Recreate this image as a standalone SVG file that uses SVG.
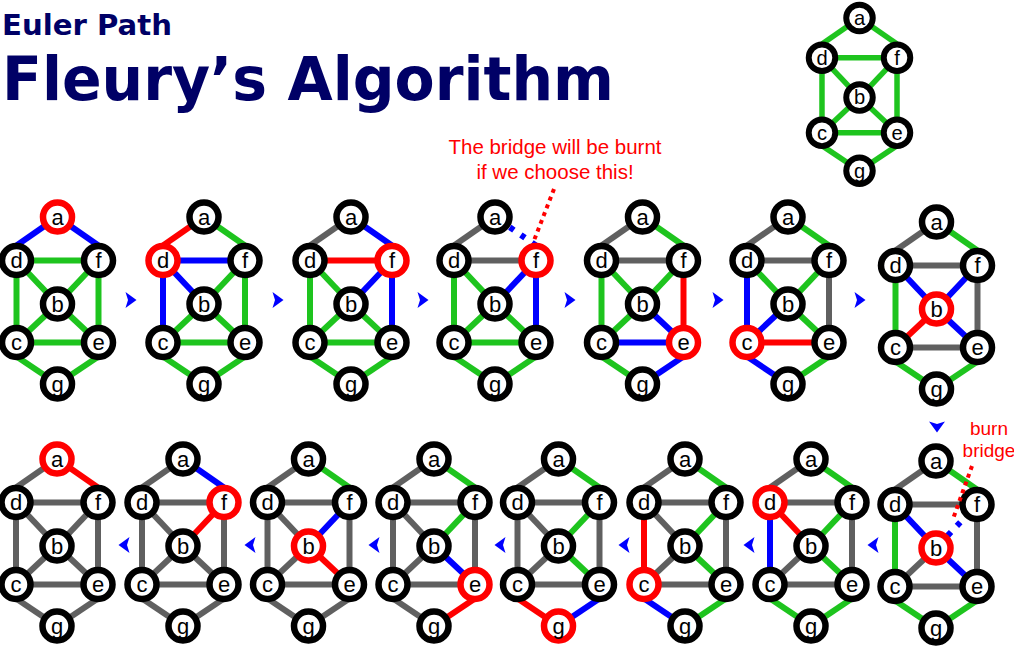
<svg xmlns="http://www.w3.org/2000/svg" width="1014" height="653" viewBox="0 0 1014 653">
<style>
  .links use { fill: none; stroke-width: 6; }
  .G { stroke: #1ec41e; }
  .K { stroke: #606060; }
  .U { stroke: #0000ff; }
  .R { stroke: #ff0000; }
  .dash { stroke-dasharray: 5 8.5; }
  .n circle { fill: #ffffff; stroke: #000000; stroke-width: 6.5; }
  .n.hot circle { stroke: #ff0000; }
  .n text { font-family: "Liberation Sans", Arial, sans-serif; font-size: 22px; text-anchor: middle; fill: #000000; }
  .title { font-family: "DejaVu Sans", Verdana, sans-serif; font-weight: bold; fill: #000066; }
  .note { font-family: "Liberation Sans", Arial, sans-serif; fill: #ff0000; text-anchor: middle; }
  .dots { fill: none; stroke: #ff0000; stroke-width: 4; stroke-dasharray: 4 4.3; }
  .arw { fill: #0000ff; }
</style>
<defs>
  <!-- edge geometry, relative to node a of each copy of the graph -->
  <path id="e-ad" d="M0,0 L-41,28.5"/>
  <path id="e-af" d="M0,0 L41,28.5"/>
  <path id="e-df" d="M-41,43.5 H41"/>
  <path id="e-db" d="M-41,43.5 L0,87"/>
  <path id="e-fb" d="M41,43.5 L0,87"/>
  <path id="e-dc" d="M-41,43.5 V125.5"/>
  <path id="e-fe" d="M41,43.5 V125.5"/>
  <path id="e-bc" d="M0,87 L-41,125.5"/>
  <path id="e-be" d="M0,87 L41,125.5"/>
  <path id="e-ce" d="M-41,125.5 H41"/>
  <path id="e-cg" d="M-41,139.5 L0,167"/>
  <path id="e-eg" d="M41,139.5 L0,167"/>
  <path id="arrow" d="M-5.5,-8 L5.5,0 L-5.5,8 L-3,0 Z"/>
</defs>

<g id="title">
  <text class="title" x="2" y="35" font-size="29" textLength="170" lengthAdjust="spacingAndGlyphs">Euler Path</text>
  <text class="title" x="2" y="100" font-size="61" textLength="612" lengthAdjust="spacingAndGlyphs">Fleury’s Algorithm</text>
</g>

<!-- the whole graph, all edges unused -->
<g id="graph" transform="translate(859.5,18) scale(0.915)">
  <g class="links">
    <use href="#e-ad" class="G"/><use href="#e-af" class="G"/><use href="#e-df" class="G"/>
    <use href="#e-db" class="G"/><use href="#e-fb" class="G"/><use href="#e-dc" class="G"/>
    <use href="#e-fe" class="G"/><use href="#e-bc" class="G"/><use href="#e-be" class="G"/>
    <use href="#e-ce" class="G"/><use href="#e-cg" class="G"/><use href="#e-eg" class="G"/>
  </g>
  <g id="graph-a" class="n"><circle r="14.5"/><text y="7.5">a</text></g>
  <g id="graph-d" class="n" transform="translate(-41,43.5)"><circle r="14.5"/><text y="7.5">d</text></g>
  <g id="graph-f" class="n" transform="translate(41,43.5)"><circle r="14.5"/><text y="7.5">f</text></g>
  <g id="graph-b" class="n" transform="translate(0,87)"><circle r="14.5"/><text y="7.5">b</text></g>
  <g id="graph-c" class="n" transform="translate(-41,125.5)"><circle r="14.5"/><text y="7.5">c</text></g>
  <g id="graph-e" class="n" transform="translate(41,125.5)"><circle r="14.5"/><text y="7.5">e</text></g>
  <g id="graph-g" class="n" transform="translate(0,167)"><circle r="14.5"/><text y="7.5">g</text></g>
</g>

<!-- step 1: start at a -->
<g id="step1" transform="translate(57.5,217)">
  <g class="links">
    <use href="#e-ad" class="U"/><use href="#e-af" class="U"/><use href="#e-df" class="G"/>
    <use href="#e-db" class="G"/><use href="#e-fb" class="G"/><use href="#e-dc" class="G"/>
    <use href="#e-fe" class="G"/><use href="#e-bc" class="G"/><use href="#e-be" class="G"/>
    <use href="#e-ce" class="G"/><use href="#e-cg" class="G"/><use href="#e-eg" class="G"/>
  </g>
  <g id="step1-a" class="n hot"><circle r="14.5"/><text y="7.5">a</text></g>
  <g id="step1-d" class="n" transform="translate(-41,43.5)"><circle r="14.5"/><text y="7.5">d</text></g>
  <g id="step1-f" class="n" transform="translate(41,43.5)"><circle r="14.5"/><text y="7.5">f</text></g>
  <g id="step1-b" class="n" transform="translate(0,87)"><circle r="14.5"/><text y="7.5">b</text></g>
  <g id="step1-c" class="n" transform="translate(-41,125.5)"><circle r="14.5"/><text y="7.5">c</text></g>
  <g id="step1-e" class="n" transform="translate(41,125.5)"><circle r="14.5"/><text y="7.5">e</text></g>
  <g id="step1-g" class="n" transform="translate(0,167)"><circle r="14.5"/><text y="7.5">g</text></g>
</g>

<!-- step 2: at d -->
<g id="step2" transform="translate(204,217)">
  <g class="links">
    <use href="#e-ad" class="R"/><use href="#e-af" class="G"/><use href="#e-df" class="U"/>
    <use href="#e-db" class="U"/><use href="#e-fb" class="G"/><use href="#e-dc" class="U"/>
    <use href="#e-fe" class="G"/><use href="#e-bc" class="G"/><use href="#e-be" class="G"/>
    <use href="#e-ce" class="G"/><use href="#e-cg" class="G"/><use href="#e-eg" class="G"/>
  </g>
  <g id="step2-a" class="n"><circle r="14.5"/><text y="7.5">a</text></g>
  <g id="step2-d" class="n hot" transform="translate(-41,43.5)"><circle r="14.5"/><text y="7.5">d</text></g>
  <g id="step2-f" class="n" transform="translate(41,43.5)"><circle r="14.5"/><text y="7.5">f</text></g>
  <g id="step2-b" class="n" transform="translate(0,87)"><circle r="14.5"/><text y="7.5">b</text></g>
  <g id="step2-c" class="n" transform="translate(-41,125.5)"><circle r="14.5"/><text y="7.5">c</text></g>
  <g id="step2-e" class="n" transform="translate(41,125.5)"><circle r="14.5"/><text y="7.5">e</text></g>
  <g id="step2-g" class="n" transform="translate(0,167)"><circle r="14.5"/><text y="7.5">g</text></g>
</g>

<!-- step 3: at f -->
<g id="step3" transform="translate(351,217)">
  <g class="links">
    <use href="#e-ad" class="K"/><use href="#e-af" class="U"/><use href="#e-df" class="R"/>
    <use href="#e-db" class="G"/><use href="#e-fb" class="U"/><use href="#e-dc" class="G"/>
    <use href="#e-fe" class="U"/><use href="#e-bc" class="G"/><use href="#e-be" class="G"/>
    <use href="#e-ce" class="G"/><use href="#e-cg" class="G"/><use href="#e-eg" class="G"/>
  </g>
  <g id="step3-a" class="n"><circle r="14.5"/><text y="7.5">a</text></g>
  <g id="step3-d" class="n" transform="translate(-41,43.5)"><circle r="14.5"/><text y="7.5">d</text></g>
  <g id="step3-f" class="n hot" transform="translate(41,43.5)"><circle r="14.5"/><text y="7.5">f</text></g>
  <g id="step3-b" class="n" transform="translate(0,87)"><circle r="14.5"/><text y="7.5">b</text></g>
  <g id="step3-c" class="n" transform="translate(-41,125.5)"><circle r="14.5"/><text y="7.5">c</text></g>
  <g id="step3-e" class="n" transform="translate(41,125.5)"><circle r="14.5"/><text y="7.5">e</text></g>
  <g id="step3-g" class="n" transform="translate(0,167)"><circle r="14.5"/><text y="7.5">g</text></g>
</g>

<!-- step 4: still at f, a-f would be a bridge -->
<g id="step4" transform="translate(495,217)">
  <g class="links">
    <use href="#e-ad" class="K"/><use href="#e-af" class="U dash" style="stroke-dashoffset:9"/><use href="#e-df" class="K"/>
    <use href="#e-db" class="G"/><use href="#e-fb" class="U"/><use href="#e-dc" class="G"/>
    <use href="#e-fe" class="U"/><use href="#e-bc" class="G"/><use href="#e-be" class="G"/>
    <use href="#e-ce" class="G"/><use href="#e-cg" class="G"/><use href="#e-eg" class="G"/>
  </g>
  <g id="step4-a" class="n"><circle r="14.5"/><text y="7.5">a</text></g>
  <g id="step4-d" class="n" transform="translate(-41,43.5)"><circle r="14.5"/><text y="7.5">d</text></g>
  <g id="step4-f" class="n hot" transform="translate(41,43.5)"><circle r="14.5"/><text y="7.5">f</text></g>
  <g id="step4-b" class="n" transform="translate(0,87)"><circle r="14.5"/><text y="7.5">b</text></g>
  <g id="step4-c" class="n" transform="translate(-41,125.5)"><circle r="14.5"/><text y="7.5">c</text></g>
  <g id="step4-e" class="n" transform="translate(41,125.5)"><circle r="14.5"/><text y="7.5">e</text></g>
  <g id="step4-g" class="n" transform="translate(0,167)"><circle r="14.5"/><text y="7.5">g</text></g>
</g>

<!-- step 5: at e -->
<g id="step5" transform="translate(642.5,217)">
  <g class="links">
    <use href="#e-ad" class="K"/><use href="#e-af" class="G"/><use href="#e-df" class="K"/>
    <use href="#e-db" class="G"/><use href="#e-fb" class="G"/><use href="#e-dc" class="G"/>
    <use href="#e-fe" class="R"/><use href="#e-bc" class="G"/><use href="#e-be" class="U"/>
    <use href="#e-ce" class="U"/><use href="#e-cg" class="G"/><use href="#e-eg" class="U"/>
  </g>
  <g id="step5-a" class="n"><circle r="14.5"/><text y="7.5">a</text></g>
  <g id="step5-d" class="n" transform="translate(-41,43.5)"><circle r="14.5"/><text y="7.5">d</text></g>
  <g id="step5-f" class="n" transform="translate(41,43.5)"><circle r="14.5"/><text y="7.5">f</text></g>
  <g id="step5-b" class="n" transform="translate(0,87)"><circle r="14.5"/><text y="7.5">b</text></g>
  <g id="step5-c" class="n" transform="translate(-41,125.5)"><circle r="14.5"/><text y="7.5">c</text></g>
  <g id="step5-e" class="n hot" transform="translate(41,125.5)"><circle r="14.5"/><text y="7.5">e</text></g>
  <g id="step5-g" class="n" transform="translate(0,167)"><circle r="14.5"/><text y="7.5">g</text></g>
</g>

<!-- step 6: at c -->
<g id="step6" transform="translate(788,217)">
  <g class="links">
    <use href="#e-ad" class="K"/><use href="#e-af" class="G"/><use href="#e-df" class="K"/>
    <use href="#e-db" class="G"/><use href="#e-fb" class="G"/><use href="#e-dc" class="U"/>
    <use href="#e-fe" class="K"/><use href="#e-bc" class="U"/><use href="#e-be" class="G"/>
    <use href="#e-ce" class="R"/><use href="#e-cg" class="U"/><use href="#e-eg" class="G"/>
  </g>
  <g id="step6-a" class="n"><circle r="14.5"/><text y="7.5">a</text></g>
  <g id="step6-d" class="n" transform="translate(-41,43.5)"><circle r="14.5"/><text y="7.5">d</text></g>
  <g id="step6-f" class="n" transform="translate(41,43.5)"><circle r="14.5"/><text y="7.5">f</text></g>
  <g id="step6-b" class="n" transform="translate(0,87)"><circle r="14.5"/><text y="7.5">b</text></g>
  <g id="step6-c" class="n hot" transform="translate(-41,125.5)"><circle r="14.5"/><text y="7.5">c</text></g>
  <g id="step6-e" class="n" transform="translate(41,125.5)"><circle r="14.5"/><text y="7.5">e</text></g>
  <g id="step6-g" class="n" transform="translate(0,167)"><circle r="14.5"/><text y="7.5">g</text></g>
</g>

<!-- step 7: at b -->
<g id="step7" transform="translate(936.5,222)">
  <g class="links">
    <use href="#e-ad" class="K"/><use href="#e-af" class="G"/><use href="#e-df" class="K"/>
    <use href="#e-db" class="U"/><use href="#e-fb" class="U"/><use href="#e-dc" class="G"/>
    <use href="#e-fe" class="K"/><use href="#e-bc" class="R"/><use href="#e-be" class="U"/>
    <use href="#e-ce" class="K"/><use href="#e-cg" class="G"/><use href="#e-eg" class="G"/>
  </g>
  <g id="step7-a" class="n"><circle r="14.5"/><text y="7.5">a</text></g>
  <g id="step7-d" class="n" transform="translate(-41,43.5)"><circle r="14.5"/><text y="7.5">d</text></g>
  <g id="step7-f" class="n" transform="translate(41,43.5)"><circle r="14.5"/><text y="7.5">f</text></g>
  <g id="step7-b" class="n hot" transform="translate(0,87)"><circle r="14.5"/><text y="7.5">b</text></g>
  <g id="step7-c" class="n" transform="translate(-41,125.5)"><circle r="14.5"/><text y="7.5">c</text></g>
  <g id="step7-e" class="n" transform="translate(41,125.5)"><circle r="14.5"/><text y="7.5">e</text></g>
  <g id="step7-g" class="n" transform="translate(0,167)"><circle r="14.5"/><text y="7.5">g</text></g>
</g>

<!-- step 8: still at b, b-f would be a bridge -->
<g id="step8" transform="translate(936,461)">
  <g class="links">
    <use href="#e-ad" class="K"/><use href="#e-af" class="G"/><use href="#e-df" class="K"/>
    <use href="#e-db" class="U"/><use href="#e-fb" class="U dash" style="stroke-dashoffset:2.7"/><use href="#e-dc" class="G"/>
    <use href="#e-fe" class="K"/><use href="#e-bc" class="K"/><use href="#e-be" class="U"/>
    <use href="#e-ce" class="K"/><use href="#e-cg" class="G"/><use href="#e-eg" class="G"/>
  </g>
  <g id="step8-a" class="n"><circle r="14.5"/><text y="7.5">a</text></g>
  <g id="step8-d" class="n" transform="translate(-41,43.5)"><circle r="14.5"/><text y="7.5">d</text></g>
  <g id="step8-f" class="n" transform="translate(41,43.5)"><circle r="14.5"/><text y="7.5">f</text></g>
  <g id="step8-b" class="n hot" transform="translate(0,87)"><circle r="14.5"/><text y="7.5">b</text></g>
  <g id="step8-c" class="n" transform="translate(-41,125.5)"><circle r="14.5"/><text y="7.5">c</text></g>
  <g id="step8-e" class="n" transform="translate(41,125.5)"><circle r="14.5"/><text y="7.5">e</text></g>
  <g id="step8-g" class="n" transform="translate(0,167)"><circle r="14.5"/><text y="7.5">g</text></g>
</g>

<!-- step 9: at d -->
<g id="step9" transform="translate(811,459)">
  <g class="links">
    <use href="#e-ad" class="K"/><use href="#e-af" class="G"/><use href="#e-df" class="K"/>
    <use href="#e-db" class="R"/><use href="#e-fb" class="G"/><use href="#e-dc" class="U"/>
    <use href="#e-fe" class="K"/><use href="#e-bc" class="K"/><use href="#e-be" class="G"/>
    <use href="#e-ce" class="K"/><use href="#e-cg" class="G"/><use href="#e-eg" class="G"/>
  </g>
  <g id="step9-a" class="n"><circle r="14.5"/><text y="7.5">a</text></g>
  <g id="step9-d" class="n hot" transform="translate(-41,43.5)"><circle r="14.5"/><text y="7.5">d</text></g>
  <g id="step9-f" class="n" transform="translate(41,43.5)"><circle r="14.5"/><text y="7.5">f</text></g>
  <g id="step9-b" class="n" transform="translate(0,87)"><circle r="14.5"/><text y="7.5">b</text></g>
  <g id="step9-c" class="n" transform="translate(-41,125.5)"><circle r="14.5"/><text y="7.5">c</text></g>
  <g id="step9-e" class="n" transform="translate(41,125.5)"><circle r="14.5"/><text y="7.5">e</text></g>
  <g id="step9-g" class="n" transform="translate(0,167)"><circle r="14.5"/><text y="7.5">g</text></g>
</g>

<!-- step 10: at c -->
<g id="step10" transform="translate(685,459)">
  <g class="links">
    <use href="#e-ad" class="K"/><use href="#e-af" class="G"/><use href="#e-df" class="K"/>
    <use href="#e-db" class="K"/><use href="#e-fb" class="G"/><use href="#e-dc" class="R"/>
    <use href="#e-fe" class="K"/><use href="#e-bc" class="K"/><use href="#e-be" class="G"/>
    <use href="#e-ce" class="K"/><use href="#e-cg" class="U"/><use href="#e-eg" class="G"/>
  </g>
  <g id="step10-a" class="n"><circle r="14.5"/><text y="7.5">a</text></g>
  <g id="step10-d" class="n" transform="translate(-41,43.5)"><circle r="14.5"/><text y="7.5">d</text></g>
  <g id="step10-f" class="n" transform="translate(41,43.5)"><circle r="14.5"/><text y="7.5">f</text></g>
  <g id="step10-b" class="n" transform="translate(0,87)"><circle r="14.5"/><text y="7.5">b</text></g>
  <g id="step10-c" class="n hot" transform="translate(-41,125.5)"><circle r="14.5"/><text y="7.5">c</text></g>
  <g id="step10-e" class="n" transform="translate(41,125.5)"><circle r="14.5"/><text y="7.5">e</text></g>
  <g id="step10-g" class="n" transform="translate(0,167)"><circle r="14.5"/><text y="7.5">g</text></g>
</g>

<!-- step 11: at g -->
<g id="step11" transform="translate(558.5,459)">
  <g class="links">
    <use href="#e-ad" class="K"/><use href="#e-af" class="G"/><use href="#e-df" class="K"/>
    <use href="#e-db" class="K"/><use href="#e-fb" class="G"/><use href="#e-dc" class="K"/>
    <use href="#e-fe" class="K"/><use href="#e-bc" class="K"/><use href="#e-be" class="G"/>
    <use href="#e-ce" class="K"/><use href="#e-cg" class="R"/><use href="#e-eg" class="U"/>
  </g>
  <g id="step11-a" class="n"><circle r="14.5"/><text y="7.5">a</text></g>
  <g id="step11-d" class="n" transform="translate(-41,43.5)"><circle r="14.5"/><text y="7.5">d</text></g>
  <g id="step11-f" class="n" transform="translate(41,43.5)"><circle r="14.5"/><text y="7.5">f</text></g>
  <g id="step11-b" class="n" transform="translate(0,87)"><circle r="14.5"/><text y="7.5">b</text></g>
  <g id="step11-c" class="n" transform="translate(-41,125.5)"><circle r="14.5"/><text y="7.5">c</text></g>
  <g id="step11-e" class="n" transform="translate(41,125.5)"><circle r="14.5"/><text y="7.5">e</text></g>
  <g id="step11-g" class="n hot" transform="translate(0,167)"><circle r="14.5"/><text y="7.5">g</text></g>
</g>

<!-- step 12: at e -->
<g id="step12" transform="translate(434,459)">
  <g class="links">
    <use href="#e-ad" class="K"/><use href="#e-af" class="G"/><use href="#e-df" class="K"/>
    <use href="#e-db" class="K"/><use href="#e-fb" class="G"/><use href="#e-dc" class="K"/>
    <use href="#e-fe" class="K"/><use href="#e-bc" class="K"/><use href="#e-be" class="U"/>
    <use href="#e-ce" class="K"/><use href="#e-cg" class="K"/><use href="#e-eg" class="R"/>
  </g>
  <g id="step12-a" class="n"><circle r="14.5"/><text y="7.5">a</text></g>
  <g id="step12-d" class="n" transform="translate(-41,43.5)"><circle r="14.5"/><text y="7.5">d</text></g>
  <g id="step12-f" class="n" transform="translate(41,43.5)"><circle r="14.5"/><text y="7.5">f</text></g>
  <g id="step12-b" class="n" transform="translate(0,87)"><circle r="14.5"/><text y="7.5">b</text></g>
  <g id="step12-c" class="n" transform="translate(-41,125.5)"><circle r="14.5"/><text y="7.5">c</text></g>
  <g id="step12-e" class="n hot" transform="translate(41,125.5)"><circle r="14.5"/><text y="7.5">e</text></g>
  <g id="step12-g" class="n" transform="translate(0,167)"><circle r="14.5"/><text y="7.5">g</text></g>
</g>

<!-- step 13: at b -->
<g id="step13" transform="translate(308.5,459)">
  <g class="links">
    <use href="#e-ad" class="K"/><use href="#e-af" class="G"/><use href="#e-df" class="K"/>
    <use href="#e-db" class="K"/><use href="#e-fb" class="U"/><use href="#e-dc" class="K"/>
    <use href="#e-fe" class="K"/><use href="#e-bc" class="K"/><use href="#e-be" class="R"/>
    <use href="#e-ce" class="K"/><use href="#e-cg" class="K"/><use href="#e-eg" class="K"/>
  </g>
  <g id="step13-a" class="n"><circle r="14.5"/><text y="7.5">a</text></g>
  <g id="step13-d" class="n" transform="translate(-41,43.5)"><circle r="14.5"/><text y="7.5">d</text></g>
  <g id="step13-f" class="n" transform="translate(41,43.5)"><circle r="14.5"/><text y="7.5">f</text></g>
  <g id="step13-b" class="n hot" transform="translate(0,87)"><circle r="14.5"/><text y="7.5">b</text></g>
  <g id="step13-c" class="n" transform="translate(-41,125.5)"><circle r="14.5"/><text y="7.5">c</text></g>
  <g id="step13-e" class="n" transform="translate(41,125.5)"><circle r="14.5"/><text y="7.5">e</text></g>
  <g id="step13-g" class="n" transform="translate(0,167)"><circle r="14.5"/><text y="7.5">g</text></g>
</g>

<!-- step 14: at f -->
<g id="step14" transform="translate(183,459)">
  <g class="links">
    <use href="#e-ad" class="K"/><use href="#e-af" class="U"/><use href="#e-df" class="K"/>
    <use href="#e-db" class="K"/><use href="#e-fb" class="R"/><use href="#e-dc" class="K"/>
    <use href="#e-fe" class="K"/><use href="#e-bc" class="K"/><use href="#e-be" class="K"/>
    <use href="#e-ce" class="K"/><use href="#e-cg" class="K"/><use href="#e-eg" class="K"/>
  </g>
  <g id="step14-a" class="n"><circle r="14.5"/><text y="7.5">a</text></g>
  <g id="step14-d" class="n" transform="translate(-41,43.5)"><circle r="14.5"/><text y="7.5">d</text></g>
  <g id="step14-f" class="n hot" transform="translate(41,43.5)"><circle r="14.5"/><text y="7.5">f</text></g>
  <g id="step14-b" class="n" transform="translate(0,87)"><circle r="14.5"/><text y="7.5">b</text></g>
  <g id="step14-c" class="n" transform="translate(-41,125.5)"><circle r="14.5"/><text y="7.5">c</text></g>
  <g id="step14-e" class="n" transform="translate(41,125.5)"><circle r="14.5"/><text y="7.5">e</text></g>
  <g id="step14-g" class="n" transform="translate(0,167)"><circle r="14.5"/><text y="7.5">g</text></g>
</g>

<!-- step 15: back at a, every edge used -->
<g id="step15" transform="translate(57,459)">
  <g class="links">
    <use href="#e-ad" class="K"/><use href="#e-af" class="R"/><use href="#e-df" class="K"/>
    <use href="#e-db" class="K"/><use href="#e-fb" class="K"/><use href="#e-dc" class="K"/>
    <use href="#e-fe" class="K"/><use href="#e-bc" class="K"/><use href="#e-be" class="K"/>
    <use href="#e-ce" class="K"/><use href="#e-cg" class="K"/><use href="#e-eg" class="K"/>
  </g>
  <g id="step15-a" class="n hot"><circle r="14.5"/><text y="7.5">a</text></g>
  <g id="step15-d" class="n" transform="translate(-41,43.5)"><circle r="14.5"/><text y="7.5">d</text></g>
  <g id="step15-f" class="n" transform="translate(41,43.5)"><circle r="14.5"/><text y="7.5">f</text></g>
  <g id="step15-b" class="n" transform="translate(0,87)"><circle r="14.5"/><text y="7.5">b</text></g>
  <g id="step15-c" class="n" transform="translate(-41,125.5)"><circle r="14.5"/><text y="7.5">c</text></g>
  <g id="step15-e" class="n" transform="translate(41,125.5)"><circle r="14.5"/><text y="7.5">e</text></g>
  <g id="step15-g" class="n" transform="translate(0,167)"><circle r="14.5"/><text y="7.5">g</text></g>
</g>

<!-- flow arrows between steps -->
<g id="flow" class="arw">
  <use href="#arrow" transform="translate(131,300)"/>
  <use href="#arrow" transform="translate(278,300)"/>
  <use href="#arrow" transform="translate(423,300)"/>
  <use href="#arrow" transform="translate(570,300)"/>
  <use href="#arrow" transform="translate(718,300)"/>
  <use href="#arrow" transform="translate(860,300)"/>
  <use href="#arrow" transform="translate(937,427) rotate(90)"/>
  <use href="#arrow" transform="translate(873,545) rotate(180)"/>
  <use href="#arrow" transform="translate(749,545) rotate(180)"/>
  <use href="#arrow" transform="translate(624,545) rotate(180)"/>
  <use href="#arrow" transform="translate(500,545) rotate(180)"/>
  <use href="#arrow" transform="translate(374,545) rotate(180)"/>
  <use href="#arrow" transform="translate(250,545) rotate(180)"/>
  <use href="#arrow" transform="translate(124,545) rotate(180)"/>
</g>

<!-- annotations -->
<g id="note-bridge">
  <text class="note" x="555" y="154" font-size="20.5">The bridge will be burnt</text>
  <text class="note" x="555" y="179" font-size="20.5">if we choose this!</text>
  <path class="dots" d="M554,189 L533,243"/>
</g>
<g id="note-burn">
  <text class="note" x="989" y="435" font-size="19">burn</text>
  <text class="note" x="989" y="457" font-size="19">bridge</text>
  <path class="dots" d="M972,466 L953,519"/>
</g>
</svg>
